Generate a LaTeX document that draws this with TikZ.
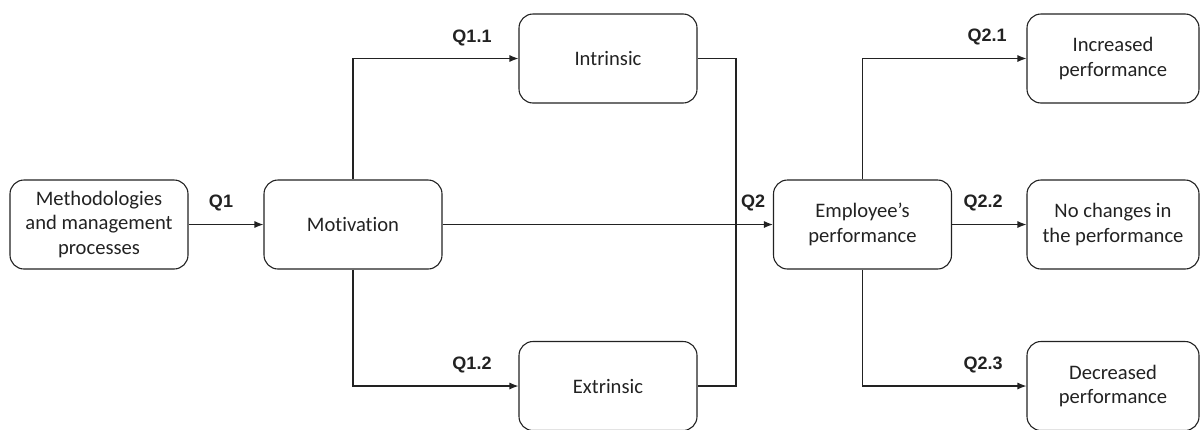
\documentclass[tikz,border=0pt]{standalone}
\usepackage{fontspec}
\setmainfont[RawFeature={-liga;-dlig}]{Carlito}
\newfontfamily\lblfont{Liberation Sans}
\usetikzlibrary{arrows.meta}
\definecolor{ink}{HTML}{222222}
\begin{document}
\begin{tikzpicture}[x=1pt,y=-1pt,
  box/.style={draw=ink, rounded corners=14pt, minimum width=178pt, minimum height=89pt,
    align=center, font=\fontsize{20.6}{24.5}\selectfont, line width=1.1pt, inner sep=0pt, text=ink},
  rbox/.style={box, minimum width=172pt},
  conn/.style={draw=ink, line width=1.1pt, -{Latex[length=9pt,width=7pt]}},
  plain/.style={draw=ink, line width=1.1pt},
  lbl/.style={font=\lblfont\bfseries\fontsize{18}{20}\selectfont, text=ink, inner sep=0pt}]
\useasboundingbox (0,0) rectangle (1201,429);

\node[box] (m) at (99,224.5) {Methodologies\\and management\\processes};
\node[box] (mot) at (353,224.5) {Motivation};
\node[box] (intr) at (608,58.5) {Intrinsic};
\node[box] (extr) at (608,386) {Extrinsic};
\node[box] (emp) at (862.5,224.5) {Employee’s\\performance};
\node[rbox] (inc) at (1113,58.5) {Increased\\performance};
\node[rbox] (noch) at (1113,224.5) {No changes in\\the performance};
\node[rbox] (dec) at (1113,386) {Decreased\\performance};

\coordinate (j1) at (736,58.5);
\coordinate (j2) at (736,386);

\draw[conn] (m) -- (mot);
\draw[conn] (mot.north) |- (intr.west);
\draw[conn] (mot.south) |- (extr.west);
\draw[plain] (intr.east) -- (j1) -- (j2) -- (extr.east);
\draw[conn] (mot) -- (emp);
\draw[conn] (emp.north) |- (inc.west);
\draw[conn] (emp) -- (noch);
\draw[conn] (emp.south) |- (dec.west);

\node[lbl] (q1) at (221,203) {Q1};
\node[lbl] (q11) at (472,38) {Q1.1};
\node[lbl] (q12) at (472,365) {Q1.2};
\node[lbl] (q2) at (753,203) {Q2};
\node[lbl] (q21) at (987,37) {Q2.1};
\node[lbl] (q22) at (983,203) {Q2.2};
\node[lbl] (q23) at (983,365) {Q2.3};
\end{tikzpicture}
\end{document}
